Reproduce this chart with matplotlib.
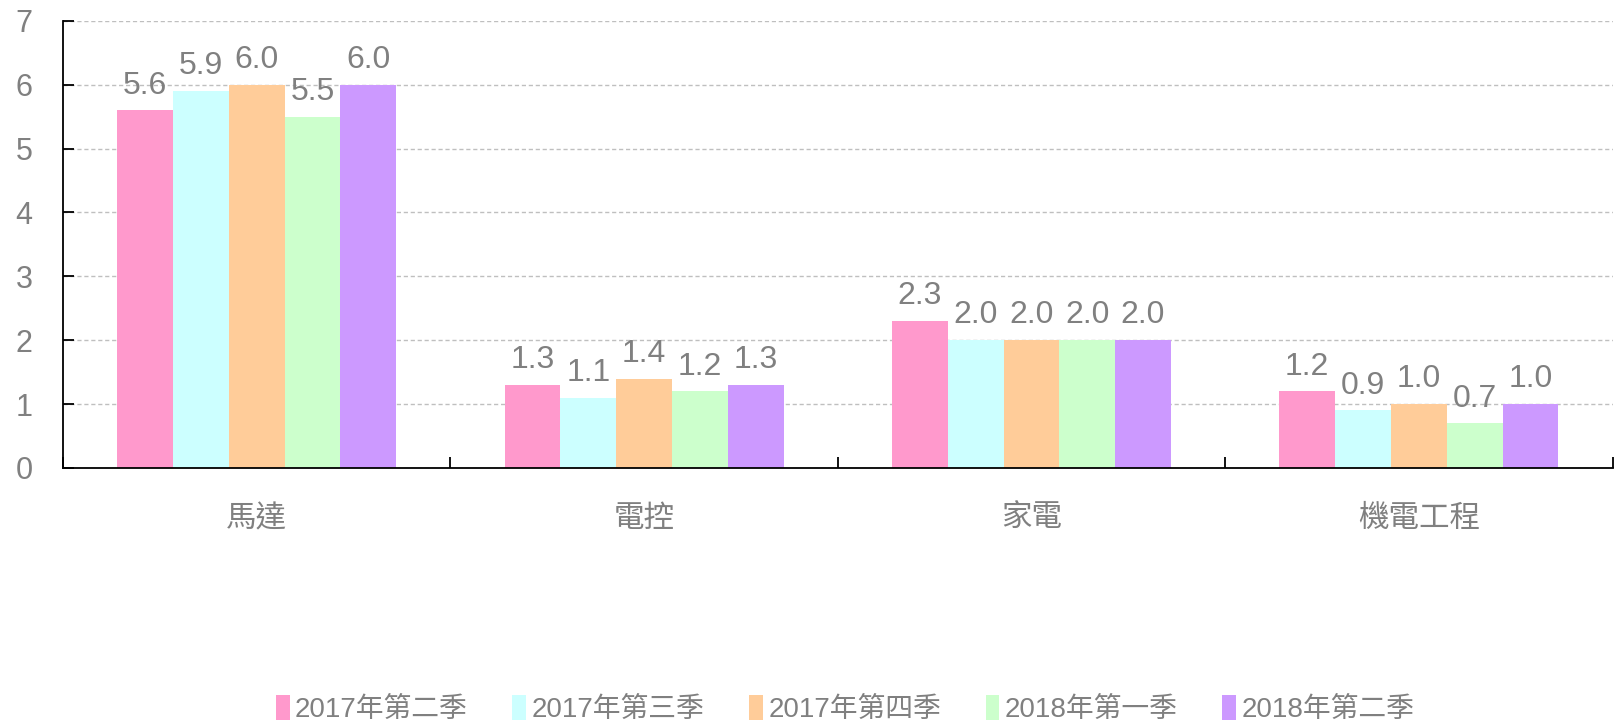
import numpy as np
import matplotlib.pyplot as plt

categories = ['馬達', '電控', '家電', '機電工程']
series = ['2017年第二季', '2017年第三季', '2017年第四季', '2018年第一季', '2018年第二季']
values = [
    [5.6, 1.3, 2.3, 1.2],
    [5.9, 1.1, 2.0, 0.9],
    [6.0, 1.4, 2.0, 1.0],
    [5.5, 1.2, 2.0, 0.7],
    [6.0, 1.3, 2.0, 1.0],
]
colors = ['#FF99CC', '#CCFFFF', '#FFCC99', '#CCFFCC', '#CC99FF']

fonts = ['Liberation Sans', 'Noto Sans CJK TC', 'DejaVu Sans']
plt.rcParams['font.family'] = fonts
gray = '#808080'

fig = plt.figure(figsize=(16.19, 7.21), dpi=100)
ax = fig.add_axes([0.039, 0.351, 0.957, 0.620])

x = np.arange(len(categories))
w = 0.144
for i, (name, vals, c) in enumerate(zip(series, values, colors)):
    pos = x + (i - 2) * w
    bars = ax.bar(pos, vals, w, color=c, label=name, zorder=2)
    for b, v in zip(bars, vals):
        ax.annotate(f'{v:.1f}', (b.get_x() + w / 2, v), xytext=(0, 7),
                    textcoords='offset points', ha='center', va='bottom',
                    fontsize=23, color=gray, zorder=3)

ax.set_xlim(-0.5, len(categories) - 0.5)
ax.set_ylim(0, 7)
ax.set_yticks(range(0, 8))
ax.yaxis.grid(True, linestyle=(0, (3, 2)), color='#BFBFBF', linewidth=1, zorder=0)
ax.set_axisbelow(True)
for s in ['top', 'right']:
    ax.spines[s].set_visible(False)
ax.spines['left'].set_linewidth(1.3)
ax.spines['bottom'].set_linewidth(1.3)

ax.set_xticks(x)
ax.set_xticklabels(categories)
ax.tick_params(axis='x', length=0, pad=26, labelsize=22, labelcolor=gray)
ax.set_xticks(np.arange(-0.5, len(categories)), minor=True)
ax.tick_params(axis='x', which='minor', direction='in', length=8, width=1.3)
ax.tick_params(axis='y', direction='in', length=8, width=1.3, labelsize=22,
               labelcolor=gray, pad=22)

leg = fig.legend(loc='lower center', bbox_to_anchor=(0.522, -0.038), ncol=5,
                 frameon=False, fontsize=20, handlelength=0.5, handleheight=1.0,
                 handletextpad=0.2, columnspacing=1.6)
for t in leg.get_texts():
    t.set_color(gray)

fig.savefig('out.png', dpi=100)
